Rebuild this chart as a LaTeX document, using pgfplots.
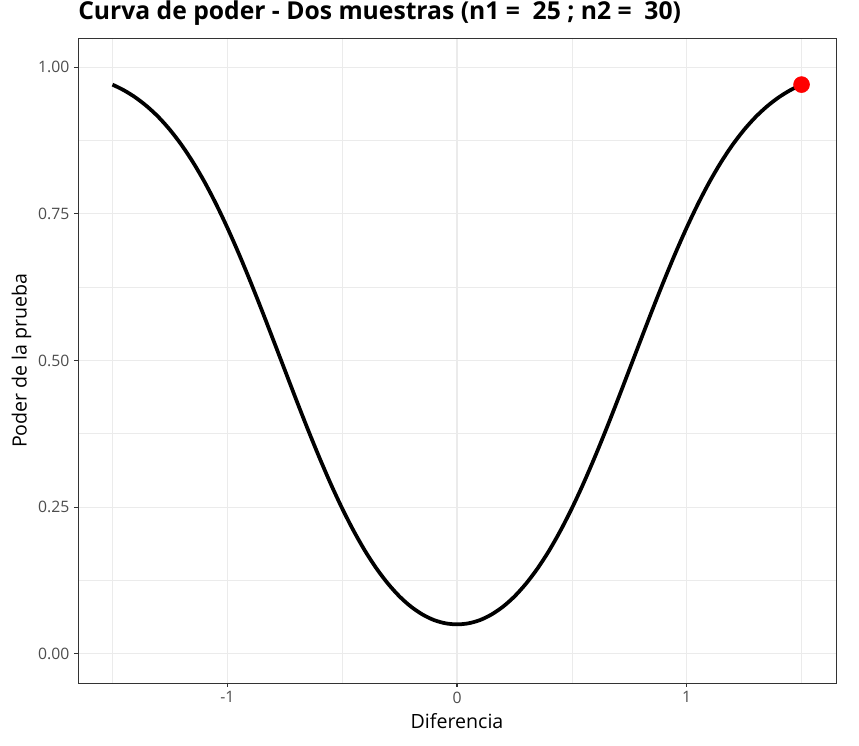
\documentclass[border=0pt]{standalone}
\usepackage{fontspec}
\setmainfont{Open Sans}
\usepackage{pgfplots}
\pgfplotsset{compat=1.18}
\definecolor{gridgrey}{HTML}{EBEBEB}
\definecolor{grey20}{HTML}{333333}
\definecolor{grey30}{HTML}{4D4D4D}

\begin{document}
\begin{tikzpicture}
\useasboundingbox (-58.5pt,-46.5pt) rectangle (585.75pt,512.25pt);
\begin{axis}[
    at={(0pt,0pt)}, anchor=south west,
    scale only axis,
    width=568.5pt, height=483.75pt,
    xmin=-1.65, xmax=1.65,
    ymin=-0.05, ymax=1.05,
    xtick={-1,0,1},
    ytick={0,0.25,0.5,0.75,1},
    yticklabels={0.00,0.25,0.50,0.75,1.00},
    minor xtick={-1.5,-0.5,0.5,1.5},
    minor ytick={0.125,0.375,0.625,0.875},
    tick pos=left,
    grid=both,
    major grid style={draw=gridgrey, line width=0.8pt},
    minor grid style={draw=gridgrey, line width=0.45pt},
    axis line style={draw=grey20, line width=0.6pt},
    tick align=outside,
    major tick length=3pt,
    minor tick length=0pt,
    tick style={draw=grey20, line width=0.8pt},
    tick label style={font=\fontsize{11.8}{14}\selectfont, text=grey30,
        /pgf/number format/assume math mode=true},
    xlabel={Diferencia},
    ylabel={Poder de la prueba},
    xlabel style={at={(axis description cs:0.5,-0.0698)}, anchor=base,
        font=\fontsize{14.7}{17}\selectfont, inner sep=0pt},
    ylabel style={at={(axis description cs:-0.0679,0.5)}, anchor=base,
        font=\fontsize{14.7}{17}\selectfont, inner sep=0pt},
]
% power curve
\addplot[black, line width=2.8pt, smooth] coordinates {
    (-1.50,0.9705) (-1.45,0.9608) (-1.40,0.9486) (-1.35,0.9335) (-1.30,0.9153)
    (-1.25,0.8935) (-1.20,0.8680) (-1.15,0.8385) (-1.10,0.8051) (-1.05,0.7677)
    (-1.00,0.7266) (-0.95,0.6823) (-0.90,0.6351) (-0.85,0.5859) (-0.80,0.5352)
    (-0.75,0.4841) (-0.70,0.4331) (-0.65,0.3832) (-0.60,0.3353) (-0.55,0.2899)
    (-0.50,0.2478) (-0.45,0.2095) (-0.40,0.1751) (-0.35,0.1450) (-0.30,0.1192)
    (-0.25,0.0975) (-0.20,0.0801) (-0.15,0.0668) (-0.10,0.0573) (-0.05,0.0518)
    (0.00,0.0500)
    (0.05,0.0518) (0.10,0.0573) (0.15,0.0668) (0.20,0.0801) (0.25,0.0975)
    (0.30,0.1192) (0.35,0.1450) (0.40,0.1751) (0.45,0.2095) (0.50,0.2478)
    (0.55,0.2899) (0.60,0.3353) (0.65,0.3832) (0.70,0.4331) (0.75,0.4841)
    (0.80,0.5352) (0.85,0.5859) (0.90,0.6351) (0.95,0.6823) (1.00,0.7266)
    (1.05,0.7677) (1.10,0.8051) (1.15,0.8385) (1.20,0.8680) (1.25,0.8935)
    (1.30,0.9153) (1.35,0.9335) (1.40,0.9486) (1.45,0.9608) (1.50,0.9705)};
% observed difference
\addplot[only marks, mark=*, mark size=6pt, color=red, fill=red] coordinates {(1.50,0.9705)};
\end{axis}
% title
\node[anchor=base west, inner sep=0pt, font=\bfseries\fontsize{18.5}{21}\selectfont]
    at (0pt,497.25pt) {Curva de poder - Dos muestras (n1 =\ \ 25 ; n2 =\ \ 30)};
\end{tikzpicture}
\end{document}
